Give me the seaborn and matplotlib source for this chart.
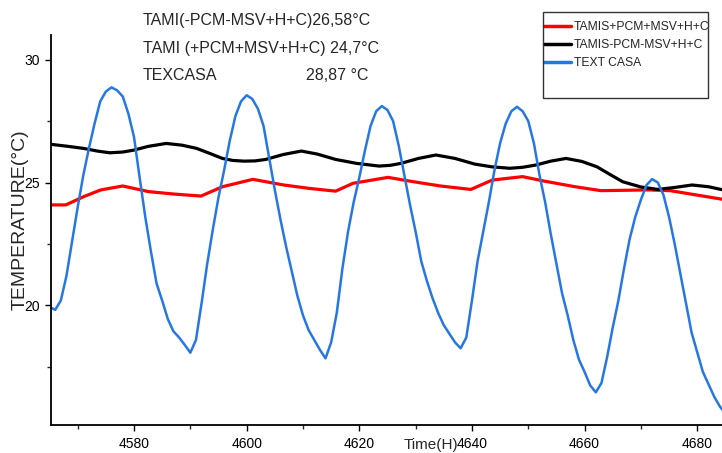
import numpy as np
import pandas as pd
import matplotlib
matplotlib.use("Agg")
import matplotlib.pyplot as plt
import seaborn as sns
from matplotlib.patches import Rectangle
from matplotlib.ticker import MultipleLocator

# ---------------- data ----------------
hours_casa = list(range(4565, 4686))
text_casa = [
    19.95, 19.82, 20.2, 21.2, 22.6, 24.0, 25.3, 26.4, 27.4, 28.3,        # 4565-4574
    28.7, 28.87, 28.75, 28.5, 27.8, 26.85, 25.2, 23.6, 22.2, 20.9,       # 4575-4584
    20.2, 19.45, 18.95, 18.7, 18.4, 18.08, 18.6, 20.1, 21.7, 23.1,       # 4585-4594
    24.4, 25.5, 26.7, 27.7, 28.3, 28.55, 28.4, 28.0, 27.3, 26.0,         # 4595-4604
    24.7, 23.5, 22.4, 21.4, 20.4, 19.6, 19.0, 18.6, 18.2, 17.85,         # 4605-4614
    18.5, 19.7, 21.5, 23.0, 24.2, 25.2, 26.3, 27.3, 27.9, 28.11,         # 4615-4624
    27.95, 27.5, 26.5, 25.3, 24.1, 23.0, 21.8, 21.0, 20.3, 19.7,         # 4625-4634
    19.2, 18.85, 18.5, 18.26, 18.7, 20.2, 21.8, 23.0, 24.2, 25.5,        # 4635-4644
    26.6, 27.4, 27.9, 28.08, 27.9, 27.5, 26.6, 25.3, 24.2, 22.9,         # 4645-4654
    21.7, 20.5, 19.6, 18.6, 17.8, 17.3, 16.75, 16.47, 16.85, 17.9,       # 4655-4664
    19.1, 20.2, 21.5, 22.7, 23.6, 24.3, 24.9, 25.14, 25.0, 24.5,         # 4665-4674
    23.6, 22.5, 21.3, 20.1, 18.9, 18.1, 17.3, 16.8, 16.3, 15.9,          # 4675-4684
    15.6,                                                                # 4685
]

hours_minus = [4565, 4568, 4571, 4573.5, 4575.7, 4578, 4580, 4582.5, 4585.7, 4588.5,
               4591.1, 4593.5, 4595.7, 4597.5, 4599.5, 4601.5, 4603.4, 4606.5, 4609.7, 4612.5,
               4615.8, 4619.5, 4623.5, 4625.5, 4627.4, 4630.5, 4633.6, 4637, 4640.5, 4643.5,
               4646.7, 4649, 4651.3, 4654, 4656.7, 4659.5, 4662.2, 4664.5, 4666.8, 4670,
               4673, 4676, 4679.1, 4682, 4685]
tamis_minus = [26.56, 26.48, 26.39, 26.28, 26.21, 26.24, 26.32, 26.47, 26.59, 26.52,
               26.39, 26.18, 25.98, 25.9, 25.87, 25.88, 25.94, 26.14, 26.28, 26.16,
               25.94, 25.78, 25.67, 25.7, 25.78, 25.98, 26.12, 25.98, 25.75, 25.64,
               25.58, 25.62, 25.71, 25.87, 25.98, 25.86, 25.64, 25.33, 25.03, 24.82,
               24.72, 24.8, 24.9, 24.83, 24.68]

hours_plus = [4565, 4567.9, 4571, 4574.1, 4578, 4582.6, 4587.2, 4591.9, 4595.7, 4601.1,
              4606.6, 4611.2, 4615.8, 4618.9, 4625.1, 4628.9, 4634.4, 4639.8, 4643.6, 4649,
              4652.8, 4658.3, 4662.9, 4671.4, 4675.2, 4685]
tamis_plus = [24.09, 24.09, 24.42, 24.7, 24.86, 24.63, 24.53, 24.45, 24.83, 25.13,
              24.9, 24.76, 24.65, 24.97, 25.21, 25.06, 24.86, 24.72, 25.1, 25.24,
              25.06, 24.83, 24.67, 24.7, 24.67, 24.3]

series_names = ["TAMIS+PCM+MSV+H+C", "TAMIS-PCM-MSV+H+C", "TEXT CASA"]
series_colors = ["#FF0000", "#000000", "#2777E3"]
x_ticks = [4580, 4600, 4620, 4640, 4660, 4680]
y_ticks = [20, 25, 30]
note_lines = ["TAMI(-PCM-MSV+H+C)26,58°C", "TAMI (+PCM+MSV+H+C) 24,7°C", "TEXCASA"]
note_value = "28,87 °C"
x_label = "Time(H)"
y_label = "TEMPERATURE(°C)"

# ---------------- figure ----------------
sns.set_style("ticks")
plt.rcParams["font.family"] = ["Liberation Sans", "DejaVu Sans"]

W, H = 722, 453
fig = plt.figure(figsize=(W / 100, H / 100), dpi=100)
ax = fig.add_axes([51 / W, 1 - 425 / H, (W - 51) / W, (425 - 35) / H])

df_plus = pd.DataFrame({"time": hours_plus, "temp": tamis_plus})
df_minus = pd.DataFrame({"time": hours_minus, "temp": tamis_minus})
df_casa = pd.DataFrame({"time": hours_casa, "temp": text_casa})

sns.lineplot(data=df_plus, x="time", y="temp", ax=ax, color=series_colors[0],
             linewidth=2.3, label=series_names[0], estimator=None, sort=False)
sns.lineplot(data=df_minus, x="time", y="temp", ax=ax, color=series_colors[1],
             linewidth=2.3, label=series_names[1], estimator=None, sort=False)
sns.lineplot(data=df_casa, x="time", y="temp", ax=ax, color=series_colors[2],
             linewidth=1.8, label=series_names[2], estimator=None, sort=False)

ax.set_xlim(4565.26, 4684.4)
ax.set_ylim(15.14, 31.0)
ax.set_xticks(x_ticks)
ax.set_yticks(y_ticks)
ax.xaxis.set_minor_locator(MultipleLocator(10))
ax.yaxis.set_minor_locator(MultipleLocator(2.5))
ax.tick_params(axis="both", which="major", direction="out", length=4.3, width=1.0,
               labelsize=10, pad=4, colors="black")
ax.tick_params(axis="both", which="minor", direction="out", length=2.6, width=1.0)
ax.set_xlabel("")
ax.set_ylabel("")
sns.despine(ax=ax)
for side in ["left", "bottom"]:
    ax.spines[side].set_linewidth(1.3)
    ax.spines[side].set_color("black")
ax.set_facecolor("white")

# axis titles
fig.text(404 / W, 1 - 445 / H, x_label, fontsize=11, ha="left", va="center")
fig.text(20 / W, 1 - 220 / H, y_label, fontsize=14, rotation=90, ha="center", va="center")

# annotations
for i, line in enumerate(note_lines):
    fig.text(143 / W, 1 - [20.5, 49, 75.5][i] / H, line, fontsize=11.5, ha="left", va="center")
fig.text(369 / W, 1 - 75.5 / H, note_value, fontsize=11.5, ha="right", va="center")

# legend
fig.add_artist(Rectangle((543 / W, 1 - 98 / H), (708 - 543) / W, (98 - 12) / H,
                         transform=fig.transFigure, fill=False, edgecolor="#333333",
                         linewidth=1.0))
leg = ax.legend(loc="upper left", bbox_to_anchor=(544 / W, 1 - 21 / H),
                bbox_transform=fig.transFigure, frameon=False, fontsize=8.7,
                handlelength=2.2, handletextpad=0.3, labelspacing=0.5,
                borderpad=0, borderaxespad=0)
for lh in leg.get_lines():
    lh.set_linewidth(2.5)

fig.savefig("out.png", dpi=100, facecolor="white")
